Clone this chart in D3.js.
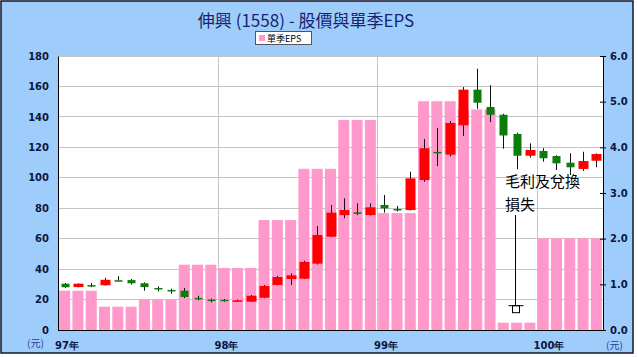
<!DOCTYPE html>
<html><head><meta charset="utf-8">
<script src="https://cdn.jsdelivr.net/npm/d3@7"></script>
<style>
html,body{margin:0;padding:0;background:#fff;}
svg{display:block;}
</style></head>
<body>
<svg id="c" width="638" height="357"></svg>
<script>
// ---- data ----
const months = ["97/01","97/02","97/03","97/04","97/05","97/06","97/07","97/08","97/09","97/10","97/11","97/12",
  "98/01","98/02","98/03","98/04","98/05","98/06","98/07","98/08","98/09","98/10","98/11","98/12",
  "99/01","99/02","99/03","99/04","99/05","99/06","99/07","99/08","99/09","99/10","99/11","99/12",
  "100/01","100/02","100/03","100/04","100/05"];
const monthQuarter = ["97Q1","97Q1","97Q1","97Q2","97Q2","97Q2","97Q3","97Q3","97Q3","97Q4","97Q4","97Q4",
  "98Q1","98Q1","98Q1","98Q2","98Q2","98Q2","98Q3","98Q3","98Q3","98Q4","98Q4","98Q4",
  "99Q1","99Q1","99Q1","99Q2","99Q2","99Q2","99Q3","99Q3","99Q3","99Q4","99Q4","99Q4",
  "100Q1","100Q1","100Q1","100Q2","100Q2"];
const quarters = ["97Q1","97Q2","97Q3","97Q4","98Q1","98Q2","98Q3","98Q4","99Q1","99Q2","99Q3","99Q4","100Q1","100Q2"];
const eps = [0.86,0.51,0.66,1.43,1.36,2.41,3.53,4.60,2.56,5.01,4.83,0.16,2.01,2.01];
const openP  = [30.4,28.2,29.5,29.4,32.7,32.8,30.7,27.6,26.3,25.8,21.1,20.0,19.9,19.2,18.6,21.2,29.6,33.5,33.7,43.6,61.3,75.5,77.3,75.5,82.1,79.5,78.8,98.5,117.0,115.2,134.5,157.9,146.5,141.4,128.8,114.5,117.6,114.3,109.9,105.8,111.2];
const highP  = [30.9,30.6,30.9,34.2,35.3,33.5,31.3,28.7,27.1,27.6,22.5,20.6,20.4,20.0,23.0,29.6,35.5,37.2,45.5,68.3,82.1,86.5,83.2,83.2,88.7,81.5,104.0,125.5,132.7,137.3,159.6,171.7,160.8,142.1,129.6,122.6,119.4,114.8,116.1,117.1,116.0];
const lowP   = [27.6,28.0,28.1,29.2,32.5,29.8,25.8,25.4,23.8,21.0,19.5,18.2,18.6,18.8,18.4,21.0,29.3,29.6,33.5,43.0,61.0,73.4,75.5,75.2,77.1,77.8,78.5,97.4,107.7,114.1,127.4,145.4,136.6,119.1,105.6,113.2,110.6,105.1,101.8,104.5,106.9];
const closeP = [28.1,30.4,29.3,33.0,32.5,30.7,28.2,26.7,25.4,21.7,20.9,19.8,19.6,19.5,22.5,28.9,34.8,35.9,44.7,62.4,77.1,78.8,77.0,80.6,79.9,79.2,99.6,119.4,116.4,136.0,157.9,149.3,141.4,127.8,114.5,118.3,112.8,109.5,106.9,111.0,115.6];
const priceTicks = [0,20,40,60,80,100,120,140,160,180];
const epsTicks = [0,1,2,3,4,5,6];
const yearLabels = ["97年","98年","99年","100年"];
const yearStart = ["97/01","98/01","99/01","100/01"];
const title = "伸興 (1558) - 股價與單季EPS";
const legendLabel = "單季EPS";
const note = ["毛利及兌換","損失"];
const noteMonth = "99/11";

// ---- layout ----
const L = 58, R = 603, T = 56, B = 330;
const svg = d3.select("#c");

svg.append("rect").attr("x",1).attr("y",1).attr("width",632).attr("height",352)
  .attr("fill","#9fcdfb").attr("stroke","#10142a").attr("stroke-width",1.5);

const x = d3.scaleBand().domain(months).range([L,R]).paddingInner(0.17).paddingOuter(0.085);
const yP = d3.scaleLinear().domain([0,180]).range([B,T]);
const yE = d3.scaleLinear().domain([0,6]).range([B,T]);
const edge = m => x(m) - (x.step()-x.bandwidth())/2;

// plot area
svg.append("rect").attr("x",L).attr("y",T).attr("width",R-L).attr("height",B-T).attr("fill","#fff");

// grid
svg.append("g").selectAll("line").data(priceTicks.filter(d=>d>0)).join("line")
  .attr("x1",L).attr("x2",R).attr("y1",d=>yP(d)).attr("y2",d=>yP(d))
  .attr("stroke","#c4c4c4").attr("stroke-width",1).attr("shape-rendering","crispEdges");
svg.append("g").selectAll("line").data(yearStart.slice(1)).join("line")
  .attr("x1",d=>Math.round(edge(d))+0.5).attr("x2",d=>Math.round(edge(d))+0.5).attr("y1",T).attr("y2",B)
  .attr("stroke","#c4c4c4").attr("stroke-width",1);

// eps bars
const epsOf = q => eps[quarters.indexOf(q)];
svg.append("g").selectAll("rect").data(months).join("rect")
  .attr("x",d=>x(d)).attr("width",x.bandwidth())
  .attr("y",(d,i)=>yE(epsOf(monthQuarter[i])))
  .attr("height",(d,i)=>B-yE(epsOf(monthQuarter[i])))
  .attr("fill","#ff99cc");

// candles
const cg = svg.append("g");
months.forEach((m,i)=>{
  const cx = Math.round(x(m)+x.bandwidth()/2)+0.5;
  const up = closeP[i] >= openP[i];
  const cw = up ? 10 : 8;
  cg.append("line").attr("x1",cx).attr("x2",cx)
    .attr("y1",yP(highP[i])).attr("y2",yP(lowP[i])).attr("stroke","#111").attr("stroke-width",1);
  const top = yP(Math.max(openP[i],closeP[i])), bot = yP(Math.min(openP[i],closeP[i]));
  cg.append("rect").attr("x",cx-cw/2).attr("width",cw)
    .attr("y",top).attr("height",Math.max(1.5,bot-top))
    .attr("fill", up ? "#ff0000" : "#0a7d0a");
});

// axes
const axL = svg.append("g").attr("transform",`translate(${L},0)`)
  .call(d3.axisLeft(yP).tickValues(priceTicks).tickSize(0).tickPadding(9));
axL.select(".domain").attr("stroke","#000");
const axR = svg.append("g").attr("transform",`translate(${R},0)`)
  .call(d3.axisRight(yE).tickValues(epsTicks).tickFormat(d3.format(".1f")).tickSize(3).tickPadding(4));
axR.selectAll(".tick line").attr("x1",-3).attr("stroke","#000");
axR.select(".domain").attr("stroke","#000");
[axL,axR].forEach(a=>a.selectAll("text").attr("font-family","DejaVu Sans, Verdana, sans-serif")
  .attr("font-weight","bold").attr("font-size",10).attr("fill","#0b1640"));
svg.append("line").attr("x1",L).attr("x2",R).attr("y1",B+0.5).attr("y2",B+0.5).attr("stroke","#000");

// year labels
svg.append("g").selectAll("text").data(yearLabels).join("text")
  .attr("x",(d,i)=>edge(yearStart[i])-3).attr("y",349)
  .attr("font-family","DejaVu Sans, Verdana, sans-serif").attr("font-weight","bold").attr("font-size",10)
  .attr("fill","#0b1640").text(d=>d);
svg.append("text").attr("x",27).attr("y",347).attr("font-family","Noto Sans CJK TC, sans-serif")
  .attr("font-size",10).attr("fill","#2a3a9a").text("(元)");
svg.append("text").attr("x",606).attr("y",349).attr("font-family","Noto Sans CJK TC, sans-serif")
  .attr("font-size",10).attr("fill","#2a3a9a").text("(元)");

// title
svg.append("text").attr("x",306).attr("y",27).attr("text-anchor","middle")
  .attr("font-family","Noto Sans CJK TC, sans-serif").attr("font-size",17).attr("fill","#18236e").text(title);

// legend
svg.append("rect").attr("x",255.5).attr("y",31.5).attr("width",56).attr("height",13)
  .attr("fill","#fff").attr("stroke","#555");
svg.append("rect").attr("x",259).attr("y",35).attr("width",6).attr("height",6).attr("fill","#ff99cc");
svg.append("text").attr("x",267).attr("y",42).attr("font-family","Noto Sans CJK TC, sans-serif")
  .attr("font-size",9).attr("fill","#000").text(legendLabel);

// annotation
const ax = Math.round(x(noteMonth)+x.bandwidth()/2) - 1.5;
svg.append("g").selectAll("text").data(note).join("text")
  .attr("x",505).attr("y",(d,i)=>187+i*22.5)
  .attr("font-family","Noto Sans CJK TC, sans-serif").attr("font-size",15).attr("fill","#000").text(d=>d);
svg.append("line").attr("x1",ax).attr("x2",ax).attr("y1",215).attr("y2",yE(eps[11])-17).attr("stroke","#000");
svg.append("line").attr("x1",ax-7).attr("x2",ax+8).attr("y1",yE(eps[11])-17).attr("y2",yE(eps[11])-17).attr("stroke","#000");
svg.append("rect").attr("x",ax-3).attr("y",yE(eps[11])-17).attr("width",7).attr("height",7)
  .attr("fill","none").attr("stroke","#000");
</script>
</body></html>
